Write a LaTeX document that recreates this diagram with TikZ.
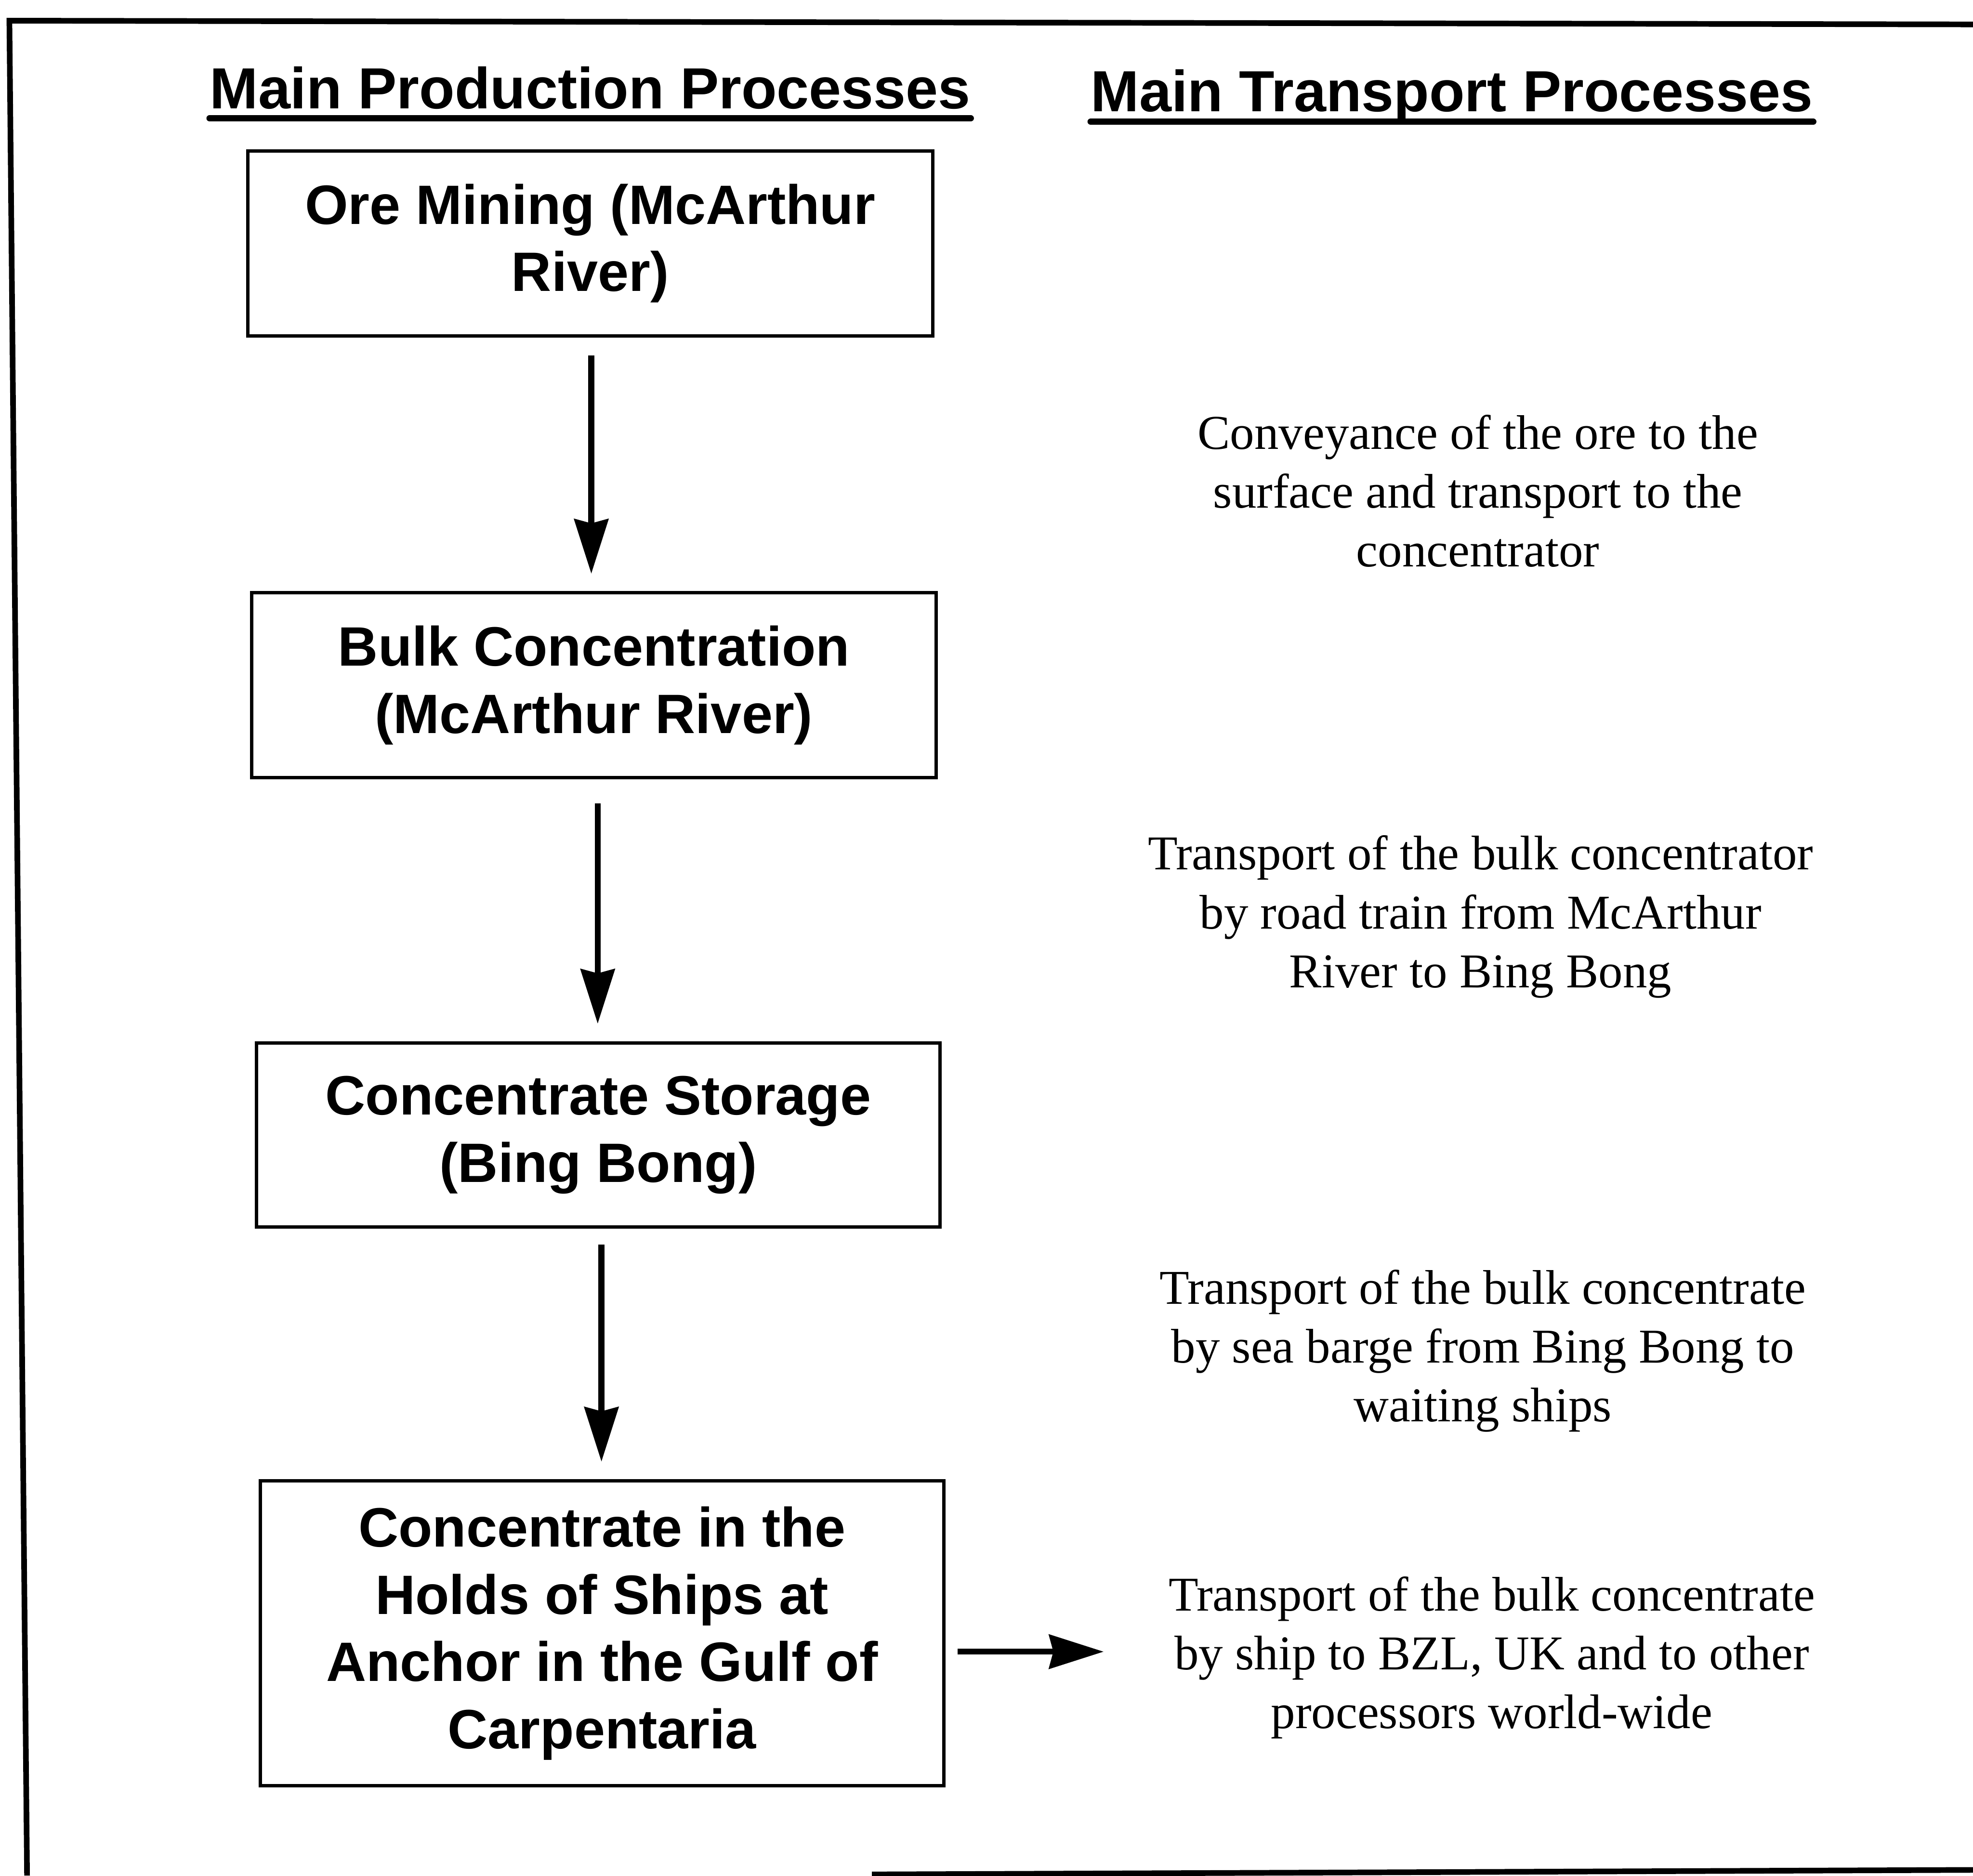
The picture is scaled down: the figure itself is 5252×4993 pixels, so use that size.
\documentclass[tikz,border=0pt]{standalone}
\usepackage{fontspec}
\setmainfont{Liberation Serif}
\setsansfont{Liberation Sans}
\usetikzlibrary{arrows.meta}
\begin{document}
\begin{tikzpicture}[x=0.01cm,y=0.01cm,
  procbox/.style={draw, line width=2.56pt, inner sep=0pt, align=center,
    font=\sffamily\bfseries\fontsize{42}{50.9}\selectfont},
  note/.style={inner sep=0pt, align=center, font=\fontsize{36.8}{44.5}\selectfont},
  header/.style={inner sep=0pt, anchor=base, font=\sffamily\bfseries\fontsize{43.9}{50}\selectfont},
  uline/.style={line width=0.17cm, line cap=round},
  frame/.style={line width=0.15cm},
  arr/.style={line width=0.16cm, -{Stealth[length=1.45cm,width=0.9cm,inset=0.11cm]}}]
\fill[white] (0,0) rectangle (5252,-4993);
\useasboundingbox (0,0) rectangle (5252,-4993);
% frame
\draw[frame] (72,-4993) -- (25,-55) -- (5252,-65);
\draw[frame] (2321,-4990) -- (5252,-4978);
% headers
\node[header] (h1) at (1571,-289) {Main Production Processes};
\node[header] (h2) at (3865,-297) {Main Transport Processes};
\draw[uline] ([yshift=-0.26cm]h1.base west) -- ([yshift=-0.26cm]h1.base east);
\draw[uline] ([yshift=-0.27cm]h2.base west) -- ([yshift=-0.27cm]h2.base east);
% process boxes
\node[procbox, minimum width=18.22cm, minimum height=4.92cm] (b1) at (1571,-648) {Ore Mining (McArthur\\River)};
\node[procbox, minimum width=18.22cm, minimum height=4.92cm] (b2) at (1581,-1824) {Bulk Concentration\\(McArthur River)};
\node[procbox, minimum width=18.19cm, minimum height=4.89cm] (b3) at (1592.5,-3021.5) {Concentrate Storage\\(Bing Bong)};
\node[procbox, minimum width=18.19cm, minimum height=8.10cm] (b4) at (1602.5,-4348) {Concentrate in the\\Holds of Ships at\\Anchor in the Gulf of\\Carpentaria};
% transport notes
\node[note] (t1) at (3934,-1307.5) {Conveyance of the ore to the\\surface and transport to the\\concentrator};
\node[note] (t2) at (3941,-2440.5) {Transport of the bulk concentrator\\by road train from McArthur\\River to Bing Bong};
\node[note] (t3) at (3947,-3596.5) {Transport of the bulk concentrate\\by sea barge from Bing Bong to\\waiting ships};
\node[note] (t4) at (3971,-4413.5) {Transport of the bulk concentrate\\by ship to BZL, UK and to other\\processors world-wide};
% arrows
\coordinate (c1) at ([xshift=0.03cm]b1.south);
\coordinate (c2) at ([xshift=0.10cm]b2.south);
\coordinate (c3) at ([xshift=0.085cm]b3.south);
\draw[arr, shorten <=0.48cm, shorten >=0.46cm] (c1) -- (c1 |- b2.north);
\draw[arr, shorten <=0.64cm, shorten >=0.47cm] (c2) -- (c2 |- b3.north);
\draw[arr, shorten <=0.43cm, shorten >=0.47cm] (c3) -- (c3 |- b4.north);
\coordinate (tip4) at (2938,-4397);
\draw[arr, shorten <=0.32cm] (b4.east |- tip4) -- (tip4);
\end{tikzpicture}
\end{document}
